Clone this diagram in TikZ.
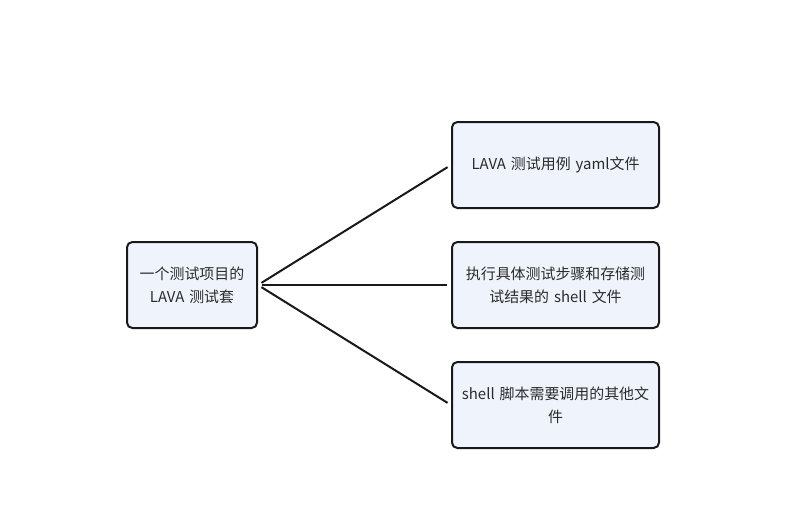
\documentclass[tikz,border=0pt]{standalone}
\usepackage{fontspec}
\newfontfamily\cjk{Noto Sans CJK SC}
\begin{document}
\begin{tikzpicture}[x=0.75pt,y=-0.75pt,
  box/.style={draw=black!90,line width=1.5pt,rounded corners=4pt,fill=boxfill,
    text=textgray,font=\cjk\fontsize{11.2}{17.3}\selectfont,align=center,inner sep=0pt,
    minimum height=86*0.75pt},
  rbox/.style={box,minimum width=207*0.75pt,text width=200*0.75pt},
  link/.style={line width=1.5pt,draw=black!90,shorten <=3pt,shorten >=3pt}]
\definecolor{boxfill}{HTML}{EFF4FC}
\definecolor{textgray}{HTML}{2B2B2B}
\useasboundingbox (0,0) rectangle (796,522);
\node[box,minimum width=130*0.75pt,text width=124*0.75pt] (L) at (192,285) {一个测试项目的\\LAVA 测试套};
\node[rbox] (R1) at (555.5,165) {LAVA 测试用例 yaml文件};
\node[rbox] (R2) at (555.5,285) {执行具体测试步骤和存储测\\试结果的 shell 文件};
\node[rbox] (R3) at (555.5,405) {shell 脚本需要调用的其他文\\件};
\draw[link] (L.east) -- (R1.west);
\draw[link] (L.east) -- (R2.west);
\draw[link] (L.east) -- (R3.west);
\end{tikzpicture}
\end{document}
